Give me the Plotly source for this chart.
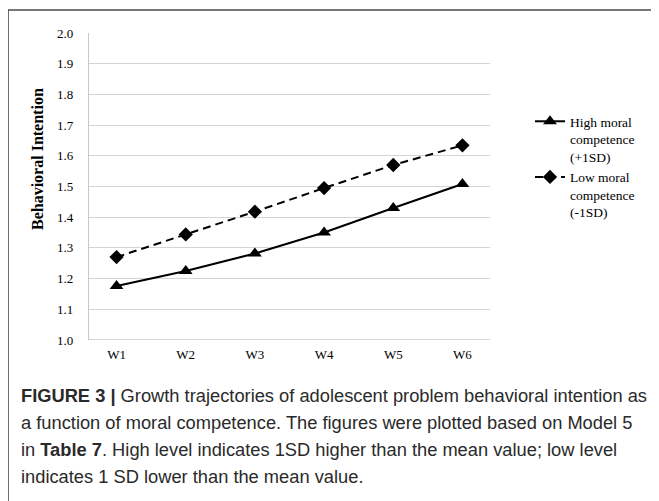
import plotly.graph_objects as go

waves = ["W1", "W2", "W3", "W4", "W5", "W6"]
high_moral = [1.176, 1.225, 1.282, 1.350, 1.430, 1.508]
low_moral = [1.270, 1.344, 1.418, 1.495, 1.570, 1.634]
y_ticks = [1.0, 1.1, 1.2, 1.3, 1.4, 1.5, 1.6, 1.7, 1.8, 1.9, 2.0]
series_names = ["High moral<br>competence<br>(+1SD)", "Low moral<br>competence<br>(-1SD)"]
caption_lines = [
    "<b>FIGURE 3 |</b> Growth trajectories of adolescent problem behavioral intention as",
    "a function of moral competence. The figures were plotted based on Model 5",
    "in <b>Table 7</b>. High level indicates 1SD higher than the mean value; low level",
    "indicates 1 SD lower than the mean value.",
]

W, H = 659, 501
OFF = 8  # page body margin offset
L, R, T, B = 89, 490, 33, 340  # plot area in reference pixel coords


def px_x(p):
    return (p - L) / (R - L)


def px_y(p):
    return (B - p) / (B - T)


serif = "Liberation Serif, Times New Roman, serif"
sans = "Liberation Sans, Arial, sans-serif"

fig = go.Figure()
fig.add_trace(go.Scatter(
    x=waves, y=high_moral, name=series_names[0], mode="lines+markers",
    line=dict(color="black", width=2),
    marker=dict(symbol="triangle-up", size=12, color="black"),
))
fig.add_trace(go.Scatter(
    x=waves, y=low_moral, name=series_names[1], mode="lines+markers",
    line=dict(color="black", width=2, dash="8px,5px"),
    marker=dict(symbol="diamond", size=11, color="black"),
))

fig.update_layout(
    width=W, height=H,
    margin=dict(l=L - OFF, r=W - (R - OFF), t=T - OFF, b=H - (B - OFF), pad=0),
    paper_bgcolor="white", plot_bgcolor="white",
    font=dict(family=serif, size=12.5, color="black"),
    showlegend=True,
    legend=dict(
        x=px_x(530), y=px_y(106), xanchor="left", yanchor="top",
        font=dict(family=serif, size=13.5, color="black"),
        valign="top", bgcolor="rgba(0,0,0,0)", borderwidth=0,
        tracegroupgap=0,
    ),
    xaxis=dict(
        showgrid=False, showline=False, zeroline=False,
        ticks="", tickfont=dict(family=serif, size=13, color="black"),
        ticklabelstandoff=5,
    ),
    yaxis=dict(
        range=[1.0, 2.0], tickvals=y_ticks, ticktext=[f"{v:.1f}" for v in y_ticks],
        showgrid=True, gridcolor="#d4d4d4", gridwidth=1,
        showline=True, linecolor="#c8c8c8", linewidth=1.3,
        zeroline=False, ticks="",
        tickfont=dict(family=serif, size=13, color="black"),
        ticklabelstandoff=12,
    ),
)

fig.add_hline(y=1.0, line=dict(color="#c8c8c8", width=1.3), layer="below")

# y-axis title as annotation (positioned like the reference)
fig.add_annotation(
    text="<b>Behavioral Intention</b>", textangle=-90,
    xref="paper", yref="paper", x=px_x(37), y=px_y(159),
    xanchor="center", yanchor="middle", showarrow=False,
    font=dict(family=serif, size=16, color="black"),
)

# figure frame (top and left edges)
fig.add_shape(type="line", xref="paper", yref="paper",
              x0=px_x(8), x1=px_x(670), y0=px_y(10), y1=px_y(10),
              line=dict(color="#4a4a4a", width=1.6))
fig.add_shape(type="line", xref="paper", yref="paper",
              x0=px_x(8), x1=px_x(8), y0=px_y(10), y1=px_y(515),
              line=dict(color="#4a4a4a", width=1.6))

# caption
line_centers = [395, 422, 449, 476.5]
for txt, cy in zip(caption_lines, line_centers):
    fig.add_annotation(
        text=txt, xref="paper", yref="paper", x=px_x(19), y=px_y(cy),
        xanchor="left", yanchor="middle", showarrow=False, align="left",
        font=dict(family=sans, size=18.3, color="#2a2a2a"),
    )

fig.write_html("out.html")
